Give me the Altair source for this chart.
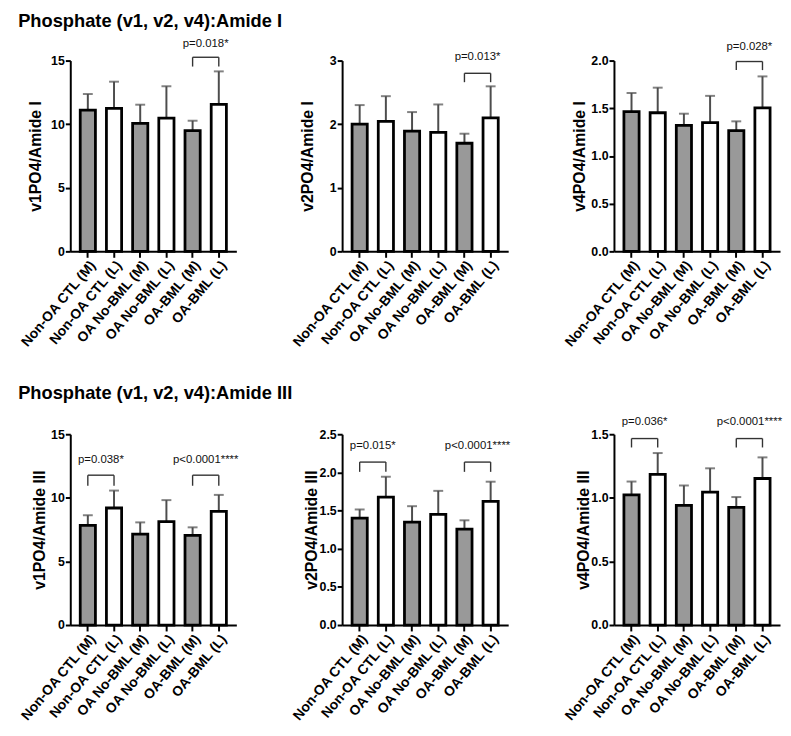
import altair as alt
import pandas as pd

FONT = "Liberation Sans"

categories = ["Non-OA CTL (M)", "Non-OA CTL (L)", "OA No-BML (M)",
              "OA No-BML (L)", "OA-BML (M)", "OA-BML (L)"]
regions = ["M", "L", "M", "L", "M", "L"]

# ---- Amide I panels ----
v1_am1_mean = [11.10, 11.25, 10.06, 10.47, 9.49, 11.56]
v1_am1_sd = [1.27, 2.09, 1.47, 2.51, 0.78, 2.59]
v2_am1_mean = [2.00, 2.045, 1.89, 1.87, 1.70, 2.10]
v2_am1_sd = [0.30, 0.395, 0.30, 0.44, 0.15, 0.495]
v4_am1_mean = [1.464, 1.453, 1.32, 1.35, 1.266, 1.505]
v4_am1_sd = [0.196, 0.263, 0.123, 0.28, 0.097, 0.329]

# ---- Amide III panels ----
v1_am3_mean = [7.84, 9.20, 7.14, 8.12, 7.04, 8.94]
v1_am3_sd = [0.79, 1.37, 0.93, 1.70, 0.64, 1.29]
v2_am3_mean = [1.40, 1.677, 1.347, 1.45, 1.256, 1.62]
v2_am3_sd = [0.114, 0.266, 0.21, 0.308, 0.116, 0.258]
v4_am3_mean = [1.024, 1.185, 0.941, 1.045, 0.925, 1.152]
v4_am3_sd = [0.104, 0.167, 0.156, 0.187, 0.081, 0.166]

# ---- significance annotations (from, to, label, bracket y, leg bottom y, label y) ----
ann_v1_am1 = (["OA-BML (M)"], ["OA-BML (L)"], ["p=0.018*"], [15.26], [14.53], [16.3])
ann_v2_am1 = (["OA-BML (M)"], ["OA-BML (L)"], ["p=0.013*"], [2.80], [2.66], [3.06])
ann_v4_am1 = (["OA-BML (M)"], ["OA-BML (L)"], ["p=0.028*"], [1.99], [1.90], [2.145])
ann_v1_am3 = (["Non-OA CTL (M)", "OA-BML (M)"], ["Non-OA CTL (L)", "OA-BML (L)"],
              ["p=0.038*", "p<0.0001****"], [11.78, 11.78], [10.95, 10.95], [12.94, 13.0])
ann_v2_am3 = (["Non-OA CTL (M)", "OA-BML (M)"], ["Non-OA CTL (L)", "OA-BML (L)"],
              ["p=0.015*", "p<0.0001****"], [2.135, 2.135], [2.007, 2.007], [2.34, 2.34])
ann_v4_am3 = (["Non-OA CTL (M)", "OA-BML (M)"], ["Non-OA CTL (L)", "OA-BML (L)"],
              ["p=0.036*", "p<0.0001****"], [1.466, 1.466], [1.396, 1.396], [1.596, 1.596])

W = 168
H = 193
P_IN = 0.42
P_OUT = 0.38
STEP = W / (len(categories) - P_IN + 2 * P_OUT)


def make_panel(mean, sd, ytitle, ymax, ystep, fmt, ann, title_x):
    top = [m + s for m, s in zip(mean, sd)]
    df = pd.DataFrame({"cat": categories, "region": regions, "mean": mean, "top": top})
    c_from, c_to, c_label, c_br, c_leg, c_txt = ann
    cdf = pd.DataFrame({"from": c_from, "to": c_to, "label": c_label,
                        "bracket": c_br, "leg": c_leg, "ty": c_txt})
    nt = int(round(ymax / ystep))
    yticks = [round(i * ystep, 4) for i in range(nt + 1)]

    xscale = alt.Scale(domain=categories, paddingInner=P_IN, paddingOuter=P_OUT)
    xaxis = alt.Axis(title=None, labelAngle=-50, labelAlign="right", labelBaseline="top",
                     labelFont=FONT, labelFontSize=14, labelFontWeight="bold",
                     labelColor="black", labelPadding=1, domainColor="black",
                     domainWidth=2, tickColor="black", tickWidth=2, tickSize=6,
                     grid=False, labelLimit=300)
    yscale = alt.Scale(domain=[0, ymax], nice=False, zero=True)
    yaxis = alt.Axis(title=ytitle, values=yticks, format=fmt, titleX=title_x,
                     titleFont=FONT, titleFontSize=16, titleFontWeight="bold",
                     titleColor="black", labelFont=FONT, labelFontSize=12.5,
                     labelFontWeight="bold", labelColor="black", labelPadding=1,
                     domainColor="black", domainWidth=2, tickColor="black",
                     tickWidth=2, tickSize=5, grid=False)

    def X(f):
        return alt.X(f"{f}:N", scale=xscale, axis=xaxis, title=None)

    def Y(f):
        return alt.Y(f"{f}:Q", scale=yscale, axis=yaxis, title=ytitle)

    err = alt.Chart(df).mark_rule(color="#4d4d4d", strokeWidth=2).encode(
        x=X("cat"), y=Y("mean"), y2="top:Q")
    cap = alt.Chart(df).mark_tick(color="#4d4d4d", thickness=2, size=10,
                                  orient="horizontal").encode(x=X("cat"), y=Y("top"))
    bars = alt.Chart(df).mark_bar(stroke="black", strokeWidth=2.8).encode(
        x=X("cat"), y=Y("mean"),
        fill=alt.Fill("region:N", scale=alt.Scale(domain=["M", "L"],
                                                   range=["#999999", "#ffffff"]),
                      legend=None))
    bracket = alt.Chart(cdf).mark_rule(color="#333333", strokeWidth=1.4).encode(
        x=X("from"), x2="to:N", y=Y("bracket"))
    leg_l = alt.Chart(cdf).mark_rule(color="#333333", strokeWidth=1.4).encode(
        x=X("from"), y=Y("leg"), y2="bracket:Q")
    leg_r = alt.Chart(cdf).mark_rule(color="#333333", strokeWidth=1.4).encode(
        x=X("to"), y=Y("leg"), y2="bracket:Q")
    txt = alt.Chart(cdf).mark_text(font=FONT, fontSize=11.5, color="#111111",
                                   baseline="middle", align="center",
                                   dx=STEP / 2).encode(
        x=X("from"), y=Y("ty"), text="label:N")
    return alt.layer(err, cap, bars, bracket, leg_l, leg_r, txt).properties(
        width=W, height=H)


p1 = make_panel(v1_am1_mean, v1_am1_sd, "v1PO4/Amide I", 15, 5, "d", ann_v1_am1, -27)
p2 = make_panel(v2_am1_mean, v2_am1_sd, "v2PO4/Amide I", 3, 1, "d", ann_v2_am1, -27)
p3 = make_panel(v4_am1_mean, v4_am1_sd, "v4PO4/Amide I", 2, 0.5, ".1f", ann_v4_am1, -27)
p4 = make_panel(v1_am3_mean, v1_am3_sd, "v1PO4/Amide III", 15, 5, "d", ann_v1_am3, -23)
p5 = make_panel(v2_am3_mean, v2_am3_sd, "v2PO4/Amide III", 2.5, 0.5, ".1f", ann_v2_am3, -23)
p6 = make_panel(v4_am3_mean, v4_am3_sd, "v4PO4/Amide III", 1.5, 0.5, ".1f", ann_v4_am3, -23)


def row_title(t, off):
    return alt.TitleParams(text=t, anchor="start", font=FONT, fontSize=18.5,
                           fontWeight="bold", color="black", offset=off)


row1 = alt.hconcat(p1, p2, p3, spacing=107, bounds="flush").properties(
    title=row_title("Phosphate (v1, v2, v4):Amide I", 7.5))
row2 = alt.hconcat(p4, p5, p6, spacing=107, bounds="flush").properties(
    title=row_title("Phosphate (v1, v2, v4):Amide III", 13.5))

chart = alt.vconcat(row1, row2, spacing=34).properties(
    padding={"left": 10, "top": 0, "right": 0, "bottom": 0}
).configure_view(stroke=None)

chart.save("out.html", embed_options={"renderer": "svg", "actions": False})
